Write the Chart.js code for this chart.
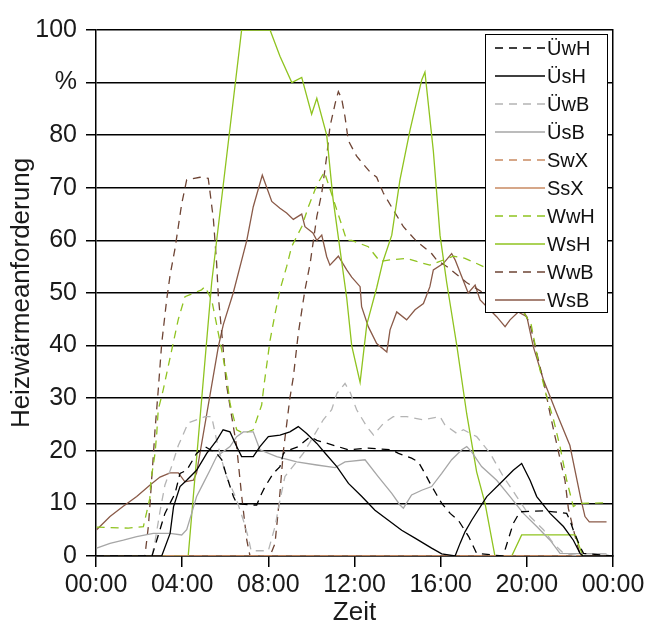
<!DOCTYPE html>
<html lang="de">
<head>
  <meta charset="UTF-8">
  <title>Heizwärmeanforderung</title>
  <script src="https://cdn.jsdelivr.net/npm/chart.js"></script>
  <style>
    html, body { margin: 0; padding: 0; background: #fff; }
  </style>
</head>
<body>
  <canvas id="chart" width="648" height="628"></canvas>

  <script>
    // Stunden (0-24) und Anforderung in %
    const timeTicks = [0, 4, 8, 12, 16, 20, 24];
    const xTickLabels = ['00:00', '04:00', '08:00', '12:00', '16:00', '20:00', '00:00'];
    const yTickLabels = ['0', '10', '20', '30', '40', '50', '60', '70', '80', '%', '100'];

    const UwH = [[0, 0], [2.6, 0], [2.82, 3], [3.2, 8.1], [3.67, 11.9], [3.9, 15.7], [4.21, 16.3], [4.67, 19.5],
      [5.06, 20.8], [5.6, 19.5], [5.84, 18.3], [6.07, 15.1], [6.38, 11.3], [6.53, 10], [7.15, 9.7], [7.46, 9.7],
      [7.69, 11.9], [7.85, 13.2], [8.23, 15.7], [8.54, 17], [8.7, 19.5], [9.0, 20.2], [9.39, 20.8], [9.94, 22.7],
      [10.25, 22], [11.72, 20.2], [12.64, 20.5], [13.72, 20.2], [14.04, 19.5], [14.65, 18.6], [14.96, 17.9],
      [15.27, 15.7], [15.51, 13.8], [15.82, 11.6], [16.05, 10], [16.44, 8.1], [16.82, 6.8], [17.3, 3.7],
      [17.67, 0.5], [18.9, 0], [19.37, 6.2], [19.68, 8.4], [20.15, 8.5], [20.77, 8.6], [21.24, 8.4], [21.85, 8.1],
      [22.0, 6.8], [22.16, 4.9], [22.47, 1.8], [22.63, 0.5], [24, 0]];

    const UsH = [[0, 0], [3.05, 0], [3.44, 4.3], [3.6, 9.4], [3.9, 13.2], [4.21, 14.4], [4.67, 16.3], [5.14, 19.5],
      [5.6, 22], [5.9, 24], [6.22, 23.6], [6.53, 20.8], [6.76, 18.9], [7.3, 18.9], [7.61, 20.8], [8.0, 22.7],
      [8.54, 23], [9.0, 23.6], [9.39, 24.6], [9.78, 23.3], [10.25, 21.4], [10.71, 19.2], [11.18, 17], [11.72, 13.8],
      [12.34, 11.3], [12.95, 8.7], [13.57, 6.8], [14.19, 4.9], [14.81, 3.4], [15.58, 1.5], [16.05, 0.4], [16.67, 0],
      [16.9, 2.4], [17.13, 4.6], [17.44, 6.8], [18.14, 11.3], [18.91, 14.4], [19.37, 16.3], [19.76, 17.6],
      [20.15, 14.4], [20.46, 11.3], [21.08, 8.1], [21.7, 5.6], [22.16, 3], [22.47, 0.5], [22.6, 0], [24, 0]];

    const UwB = [[0, 0], [2.6, 0], [2.75, 3], [2.98, 8.7], [3.2, 13.5], [3.51, 17], [3.82, 21], [4.28, 25.3],
      [5.06, 26.5], [5.37, 26.5], [5.6, 22], [6.0, 15.7], [6.5, 11], [6.84, 6.8], [7.07, 3.5], [7.2, 1], [8.0, 1],
      [8.31, 5.6], [8.54, 10.6], [8.77, 15.1], [9.62, 19.5], [10.09, 22.7], [10.55, 25.9], [10.94, 27.8],
      [11.18, 30.9], [11.56, 32.8], [11.79, 31.2], [12.1, 27.8], [12.57, 24.6], [12.88, 23], [13.34, 25.2],
      [13.8, 26.5], [14.42, 26.5], [15.2, 25.9], [15.97, 26.5], [16.2, 24.9], [16.75, 23.3], [17.05, 24],
      [17.67, 22.7], [18.3, 19.5], [18.91, 15.1], [19.53, 11.3], [20.15, 7.5], [20.77, 5], [21.23, 2.4],
      [21.7, 0.5], [22.5, 0], [24, 0]];

    const UsB = [[0.03, 1.5], [0.65, 2.4], [1.27, 3], [1.89, 3.7], [2.66, 4.3], [3.44, 4.3], [3.98, 4], [4.21, 5],
      [4.44, 8.1], [4.67, 11.3], [4.98, 13.8], [5.29, 16.3], [5.6, 18.9], [6.22, 20.8], [6.53, 22.7], [6.84, 23.6],
      [7.3, 23.6], [7.61, 20.2], [8.39, 18.9], [9.32, 17.9], [10.25, 17.3], [11.1, 16.8], [11.56, 17.9],
      [12.49, 18.3], [13.1, 15.1], [13.73, 11.9], [14.11, 9.7], [14.27, 9.1], [14.65, 11.6], [15.12, 12.5],
      [15.58, 13.2], [16.05, 15.7], [16.51, 18.3], [16.98, 20.2], [17.21, 20.8], [17.44, 19.8], [17.9, 17],
      [18.6, 14.4], [19.22, 11.3], [19.84, 8.1], [20.46, 5.6], [21.08, 3], [21.54, 0.5], [23.7, 0.4]];

    const SwX = [[0, 0], [24, 0]];
    const SsX = [[0, 0], [24, 0]];

    const WwH = [[0.03, 5.5], [1.5, 5.3], [2.2, 5.6], [2.5, 11], [2.55, 14.4], [2.74, 19.5], [2.82, 23.3],
      [2.89, 27.8], [3.12, 31.6], [3.35, 36], [3.58, 40.4], [3.82, 45], [4.13, 49.3], [4.9, 50.6], [5.06, 51.2],
      [5.37, 48.7], [5.6, 44], [5.84, 39], [6.07, 34], [6.22, 29], [6.53, 24], [6.85, 23.3], [7.3, 24],
      [7.69, 28.7], [7.8, 32.5], [8.08, 41], [8.31, 46], [8.54, 50.6], [8.85, 55], [9.08, 58.8], [9.55, 62.6],
      [9.86, 66.4], [10.25, 70.5], [10.6, 73], [10.78, 70.8], [11.64, 60], [11.87, 60], [12.64, 58.8], [13.18, 56],
      [13.65, 56.3], [14.42, 56.6], [14.89, 56], [15.5, 55.3], [16.59, 57], [17.13, 56.6], [18.0, 55], [19.0, 52],
      [20.2, 44], [20.61, 35.4], [20.92, 30.3], [21.24, 25.9], [21.54, 20.8], [21.85, 14.4], [22.16, 9.4],
      [22.4, 10], [23.7, 10.1]];

    const WsH = [[0, 0], [4.28, 0], [5.37, 52], [6.76, 100], [8.08, 100], [8.54, 95], [9.09, 90], [9.55, 91],
      [10.01, 84], [10.25, 87], [10.71, 80], [11.0, 68], [11.64, 49], [11.87, 40], [12.26, 33], [12.57, 44],
      [13.03, 51], [13.32, 56], [13.73, 61], [14.11, 71.5], [14.58, 81], [15.12, 90.5], [15.27, 92], [15.66, 77],
      [15.97, 61], [16.28, 52], [16.75, 40], [17.21, 27], [17.67, 16], [18.06, 10], [18.52, 0], [19.3, 0],
      [19.76, 4], [22.24, 4], [22.6, 0], [24, 0]];

    const WwB = [[0, 0], [2.27, 0], [2.43, 5.6], [2.51, 10], [2.59, 15], [2.66, 19], [2.74, 24], [2.82, 28],
      [2.89, 31.6], [3.05, 40.4], [3.28, 48.7], [3.44, 53.4], [3.67, 58.5], [3.82, 62.6], [3.98, 67], [4.21, 71.5],
      [4.83, 72], [5.21, 71.8], [5.32, 68.3], [5.45, 64], [5.6, 55.6], [5.68, 49.3], [5.84, 42.3], [6.04, 33],
      [6.22, 28.5], [6.53, 20.8], [6.76, 11.5], [7.0, 3], [7.15, 0], [8.08, 0], [8.31, 2.4], [8.54, 12],
      [8.7, 20], [9.0, 30], [9.16, 34], [9.39, 42.3], [9.7, 50.6], [9.94, 55.6], [10.25, 64.5], [10.48, 69],
      [10.71, 76], [10.86, 81.6], [11.1, 86], [11.25, 88.3], [11.4, 87], [11.56, 83.5], [11.71, 79], [12.1, 76],
      [12.72, 73], [13.03, 72], [13.34, 69], [13.8, 65.8], [14.27, 62.6], [14.89, 59.8], [15.58, 57.5],
      [15.81, 56.3], [16.3, 55], [17.2, 52], [18.0, 50], [18.8, 48], [19.5, 47], [19.92, 46], [20.15, 44],
      [20.38, 40], [20.61, 36], [20.84, 32], [21.08, 27], [21.31, 22.7], [21.54, 18.5], [21.77, 14.4],
      [21.93, 9], [22.32, 2.4], [22.5, 0], [24, 0]];

    const WsB = [[0.03, 5], [0.65, 7.5], [1.25, 9.4], [1.89, 11.3], [2.51, 13.5], [2.97, 15], [3.44, 15.8],
      [3.82, 15.8], [4.13, 14.1], [4.52, 14.4], [4.67, 15.8], [5.68, 39.8], [5.91, 44], [6.37, 50], [7.0, 60],
      [7.3, 66.4], [7.72, 72.4], [8.16, 67.4], [8.54, 66.1], [8.85, 65.2], [9.16, 64], [9.55, 65], [9.7, 62.6],
      [10.07, 61.4], [10.25, 60], [10.48, 61], [10.71, 56.9], [10.86, 55.3], [11.25, 57], [11.64, 54.4],
      [11.87, 53], [12.26, 51.2], [12.33, 47.4], [12.64, 43.6], [13.03, 40.4], [13.5, 38.8], [13.65, 43],
      [13.96, 46.4], [14.42, 44.9], [14.81, 46.8], [15.2, 48], [15.5, 51.2], [15.66, 54.4], [16.12, 55.6],
      [16.51, 57.5], [16.67, 56.3], [16.98, 53.1], [17.28, 50], [17.6, 51.5], [17.83, 48.7], [18.6, 45.5],
      [18.99, 43.6], [19.22, 44.9], [19.6, 46.4], [20.0, 45.5], [20.3, 39.8], [20.77, 33.5], [21.39, 27.1],
      [22.0, 21], [22.1, 19], [22.5, 11], [22.7, 7.5], [22.9, 6.5], [23.7, 6.5]];

    const dashed = [8, 6];
    const series = [
      { label: 'ÜwH', data: UwH, color: '#000000', dash: dashed },
      { label: 'ÜsH', data: UsH, color: '#000000', dash: [] },
      { label: 'ÜwB', data: UwB, color: '#b4b4b4', dash: dashed },
      { label: 'ÜsB', data: UsB, color: '#a6a6a6', dash: [] },
      { label: 'SwX', data: SwX, color: '#c98a62', dash: dashed },
      { label: 'SsX', data: SsX, color: '#c98a62', dash: [] },
      { label: 'WwH', data: WwH, color: '#8fc31f', dash: dashed },
      { label: 'WsH', data: WsH, color: '#8fc31f', dash: [] },
      { label: 'WwB', data: WwB, color: '#6e4434', dash: dashed },
      { label: 'WsB', data: WsB, color: '#8a5a48', dash: [] }
    ];

    const FONT = "'Liberation Sans', Arial, sans-serif";
    Chart.defaults.font.family = FONT;
    Chart.defaults.color = '#1a1a1a';

    // Legende innerhalb der Zeichenfläche, rechts oben
    const boxLegend = {
      id: 'boxLegend',
      afterDatasetsDraw(chart) {
        const ctx = chart.ctx;
        ctx.save();
        ctx.fillStyle = '#fff';
        ctx.fillRect(485, 34, 123, 279);
        ctx.strokeStyle = '#000';
        ctx.lineWidth = 1;
        ctx.strokeRect(485.5, 34.5, 122, 278);
        ctx.font = '20px ' + FONT;
        ctx.textBaseline = 'middle';
        chart.data.datasets.forEach((ds, i) => {
          const y = 48 + i * 28;
          ctx.beginPath();
          ctx.setLineDash(ds.borderDash);
          ctx.strokeStyle = ds.borderColor;
          ctx.lineWidth = 1.5;
          ctx.moveTo(495, y);
          ctx.lineTo(545, y);
          ctx.stroke();
          ctx.setLineDash([]);
          ctx.fillStyle = '#111';
          ctx.fillText(ds.label, 547, y + 1);
        });
        ctx.restore();
      }
    };

    new Chart(document.getElementById('chart'), {
      type: 'line',
      data: {
        datasets: series.map(s => ({
          label: s.label,
          data: s.data,
          borderColor: s.color,
          backgroundColor: s.color,
          borderDash: s.dash,
          borderWidth: 1.3,
          pointRadius: 0,
          tension: 0,
          fill: false
        }))
      },
      options: {
        responsive: false,
        animation: false,
        layout: { padding: { left: 0, right: 35, top: 30, bottom: 0 } },
        plugins: {
          legend: { display: false },
          tooltip: { enabled: false }
        },
        scales: {
          x: {
            type: 'linear',
            min: 0,
            max: 24,
            z: 1,
            afterBuildTicks: s => { s.ticks = timeTicks.map(v => ({ value: v })); },
            afterFit: s => { s.height = 72; },
            grid: { drawOnChartArea: false, color: '#000', lineWidth: 1.5, tickLength: 11 },
            border: { color: '#000', width: 1.5 },
            ticks: {
              autoSkip: false,
              maxRotation: 0,
              padding: 3,
              font: { size: 25 },
              callback: v => xTickLabels[timeTicks.indexOf(v)]
            },
            title: { display: true, text: 'Zeit', font: { size: 26 }, padding: { top: 0, bottom: 0 } }
          },
          y: {
            min: 0,
            max: 100,
            afterFit: s => { s.width = 96; },
            grid: { color: '#000', lineWidth: 1.5, tickLength: 10 },
            border: { color: '#000', width: 1.5 },
            ticks: {
              stepSize: 10,
              padding: 9,
              font: { size: 25 },
              callback: v => yTickLabels[Math.round(v / 10)]
            },
            title: {
              display: true,
              text: 'Heizwärmeanforderung',
              font: { size: 26 },
              padding: { top: 6, bottom: 0 }
            }
          },
          y2: {
            position: 'right',
            min: 0,
            max: 100,
            afterFit: s => { s.width = 0; },
            grid: { display: false, drawTicks: false },
            ticks: { display: false },
            border: { display: true, color: '#000', width: 1.5 }
          }
        }
      },
      plugins: [boxLegend]
    });
  </script>
</body>
</html>
